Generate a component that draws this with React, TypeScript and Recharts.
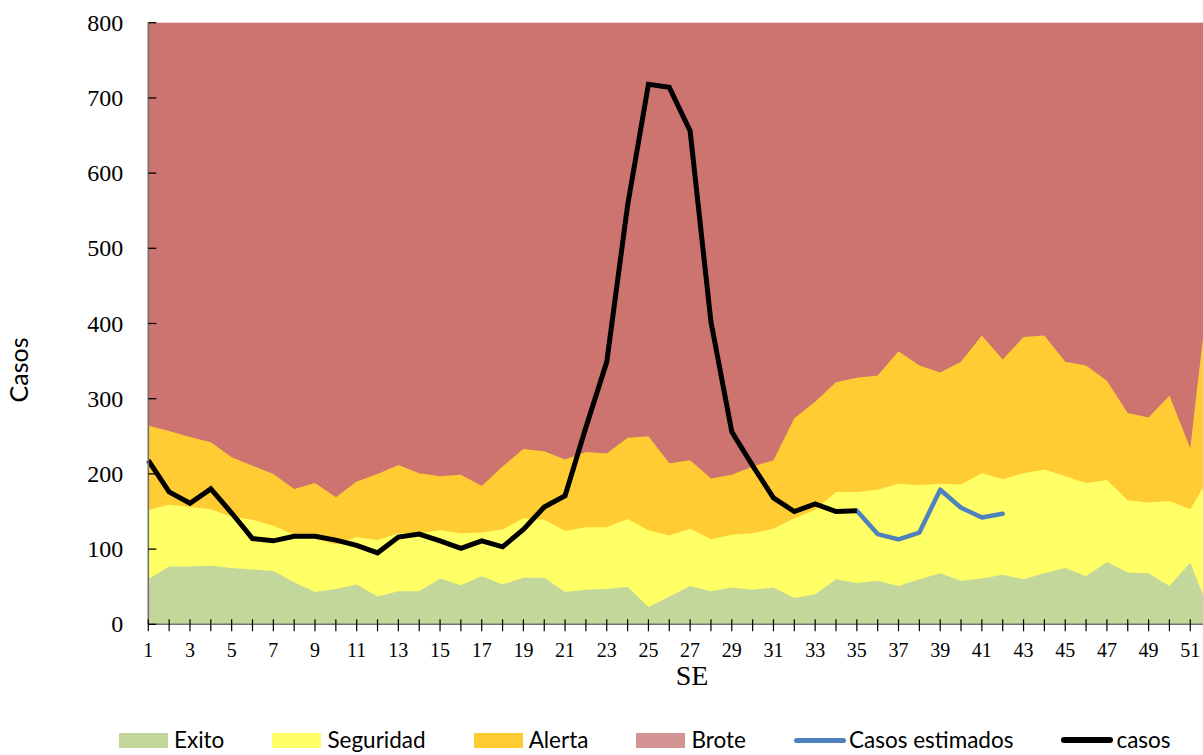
import React from 'react';
import { ComposedChart, Area, Line, XAxis, YAxis, CartesianGrid } from 'recharts';

// Semana epidemiologica (SE)
const semanas = [
  1, 2, 3, 4, 5, 6, 7, 8, 9, 10, 11, 12, 13, 14, 15, 16, 17, 18, 19, 20, 21, 22, 23, 24, 25, 26,
  27, 28, 29, 30, 31, 32, 33, 34, 35, 36, 37, 38, 39, 40, 41, 42, 43, 44, 45, 46, 47, 48, 49, 50, 51, 52,
];

// limite superior de cada zona del canal endemico
const exito = [
  60, 77, 77, 78, 75, 73, 71, 56, 43, 47, 53, 37, 44, 44, 61, 52, 64, 53, 62, 62, 43, 46, 47, 50, 23, 37,
  51, 44, 49, 46, 49, 35, 40, 60, 55, 58, 51, 60, 68, 58, 61, 66, 60, 68, 75, 64, 83, 69, 68, 51, 82, 12,
];
const seguridad = [
  152, 159, 156, 153, 143, 139, 131, 119, 114, 106, 116, 112, 121, 121, 125, 121, 122, 126, 141, 139, 124, 129, 129, 140, 125, 118,
  127, 113, 119, 121, 127, 141, 152, 176, 176, 179, 187, 185, 187, 186, 201, 193, 201, 206, 197, 188, 192, 165, 162, 164, 153, 200,
];
const alerta = [
  264, 257, 249, 242, 222, 211, 200, 180, 188, 169, 190, 200, 212, 201, 197, 199, 184, 210, 233, 230, 219, 229, 227, 248, 250, 214,
  218, 194, 199, 210, 218, 274, 296, 322, 328, 331, 363, 344, 335, 349, 384, 352, 382, 384, 349, 344, 324, 281, 275, 304, 234, 475,
];

// casos notificados (SE 1 a 35)
const casos = [
  218, 176, 161, 180, 148, 114, 111, 117, 117, 112, 105, 95, 116, 120, 111, 101, 111, 103, 126, 156, 171, 262, 349, 557, 718, 714,
  656, 402, 256, 211, 168, 150, 160, 150, 151,
];

// casos estimados desde la SE 35
const inicioEstimados = 35;
const casosEstimados = [151, 120, 113, 122, 179, 155, 142, 147];

const yTicks = [0, 100, 200, 300, 400, 500, 600, 700, 800];

const colores: Record<string, string> = {
  Exito: '#C4D79B',
  Seguridad: '#FFFF66',
  Alerta: '#FFCC33',
  Brote: '#CD7370',
  'Casos estimados': '#4F81BD',
  casos: '#000000',
};

const leyenda = ['Exito', 'Seguridad', 'Alerta', 'Brote', 'Casos estimados', 'casos'];

const data = semanas.map((s, i) => {
  const j = s - inicioEstimados;
  return {
    semana: s,
    exito: exito[i],
    seguridad: seguridad[i],
    alerta: alerta[i],
    casos: i < casos.length ? casos[i] : null,
    casosEstimados: j >= 0 && j < casosEstimados.length ? casosEstimados[j] : null,
  };
});

const YTick = (props: any) => {
  const { x, y, payload } = props;
  return (
    <g>
      <line x1={x + 25} x2={x + 33} y1={y} y2={y} stroke="#000" strokeWidth={1.3} />
      <text
        x={x}
        y={y}
        textAnchor="end"
        dominantBaseline="central"
        fontFamily="Liberation Serif"
        fontSize={24}
        fill="#000"
      >
        {payload.value}
      </text>
    </g>
  );
};

const XTick = (props: any) => {
  const { x, y, payload } = props;
  return (
    <g>
      <line x1={x} x2={x} y1={y - 31} y2={y - 19} stroke="#000" strokeWidth={1.2} />
      {payload.value % 2 === 1 && (
        <text
          x={x}
          y={y}
          textAnchor="middle"
          dominantBaseline="central"
          fontFamily="Liberation Serif"
          fontSize={20}
          fill="#000"
        >
          {payload.value}
        </text>
      )}
    </g>
  );
};

const App = () => {
  return (
    <div
      style={{
        position: 'fixed',
        left: 0,
        top: 0,
        width: 1203,
        height: 755,
        overflow: 'hidden',
        background: '#fff',
      }}
    >
      <ComposedChart
        width={1215}
        height={755}
        data={data}
        margin={{ top: 22.7, right: 3.9, left: 0, bottom: 70.7 }}
      >
        <CartesianGrid horizontal={false} vertical={false} fill={colores.Brote} fillOpacity={1} stroke="none" />
        <Area
          type="linear"
          dataKey="alerta"
          name="Alerta"
          fill={colores.Alerta}
          fillOpacity={1}
          stroke="none"
          isAnimationActive={false}
        />
        <Area
          type="linear"
          dataKey="seguridad"
          name="Seguridad"
          fill={colores.Seguridad}
          fillOpacity={1}
          stroke="none"
          isAnimationActive={false}
        />
        <Area
          type="linear"
          dataKey="exito"
          name="Exito"
          fill={colores.Exito}
          fillOpacity={1}
          stroke="none"
          isAnimationActive={false}
        />
        <Line
          type="linear"
          dataKey="casosEstimados"
          name="Casos estimados"
          stroke={colores['Casos estimados']}
          strokeWidth={4.5}
          strokeLinecap="round"
          strokeLinejoin="round"
          dot={false}
          activeDot={false}
          isAnimationActive={false}
        />
        <Line
          type="linear"
          dataKey="casos"
          name="casos"
          stroke={colores.casos}
          strokeWidth={5}
          dot={false}
          activeDot={false}
          isAnimationActive={false}
        />
        <XAxis
          dataKey="semana"
          type="number"
          domain={[1, 52]}
          ticks={semanas}
          interval={0}
          height={60}
          tickSize={0}
          tickMargin={26}
          tick={<XTick />}
          axisLine={{ stroke: '#707070', strokeWidth: 1.6 }}
          label={() => (
            <text x={692} y={675} textAnchor="middle" dominantBaseline="central" fontFamily="Liberation Serif" fontSize={28} fill="#000">
              SE
            </text>
          )}
        />
        <YAxis
          type="number"
          domain={[0, 800]}
          ticks={yTicks}
          interval={0}
          width={148.3}
          tickSize={0}
          tickMargin={25}
          tick={<YTick />}
          axisLine={{ stroke: '#707070', strokeWidth: 1.6 }}
          label={() => (
            <text
              x={18}
              y={370}
              transform="rotate(-90 18 370)"
              textAnchor="middle"
              dominantBaseline="central"
              fontFamily="Lato"
              fontSize={25}
              fill="#000"
            >
              Casos
            </text>
          )}
        />
      </ComposedChart>
      <div
        style={{
          position: 'absolute',
          left: 119,
          top: 727,
          display: 'flex',
          alignItems: 'center',
          fontFamily: 'Lato',
          fontSize: 22.5,
          color: '#000',
          whiteSpace: 'nowrap',
        }}
      >
        {leyenda.map((nombre) => {
          const esLinea = nombre === 'casos' || nombre === 'Casos estimados';
          return (
            <div key={nombre} style={{ display: 'flex', alignItems: 'center', marginRight: 48 }}>
              {esLinea ? (
                <div style={{ width: 52, height: nombre === 'casos' ? 6 : 5, borderRadius: 3, background: colores[nombre], marginRight: 3 }} />
              ) : (
                <div
                  style={{
                    width: 49,
                    height: 15,
                    background: nombre === 'Brote' ? '#D59494' : colores[nombre],
                    marginRight: 6,
                  }}
                />
              )}
              <span style={{ lineHeight: '26px' }}>{nombre}</span>
            </div>
          );
        })}
      </div>
    </div>
  );
};

export default App;
